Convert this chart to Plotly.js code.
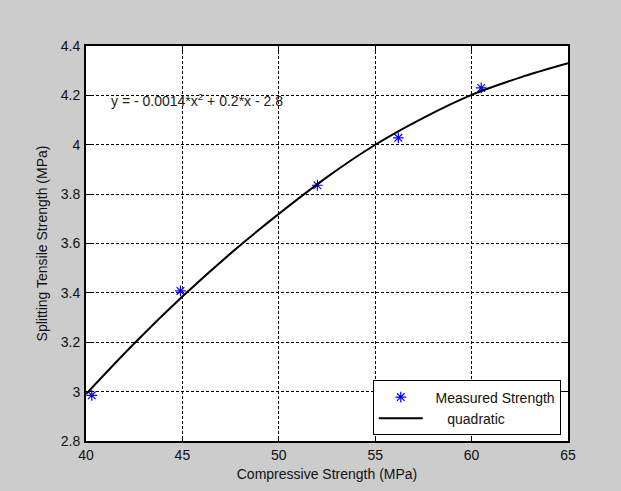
<!DOCTYPE html>
<html>
<head>
<meta charset="utf-8">
<script src="https://cdn.plot.ly/plotly-3.0.1.min.js"></script>
<style>
  html, body { margin: 0; padding: 0; background: #cccccc; }
  #chart { width: 621px; height: 491px; }
</style>
</head>
<body>
<div id="chart"></div>
<script>
// Measured splitting tensile strength against compressive strength
const measuredX = [40.3, 44.9, 52.0, 56.2, 60.5];
const measuredY = [2.985, 3.408, 3.836, 4.028, 4.23];

// Quadratic fit curve sampled along the compressive strength range
const fitX = [40, 42.5, 45, 47.5, 50, 52.5, 55, 57.5, 60, 62.5, 65];
const fitY = [2.99, 3.195, 3.385, 3.56, 3.72, 3.869, 4.0, 4.109, 4.202, 4.272, 4.33];

const xTicks = [40, 45, 50, 55, 60, 65];
const yTicks = [2.8, 3, 3.2, 3.4, 3.6, 3.8, 4, 4.2, 4.4];
const yTickText = ['2.8', '3', '3.2', '3.4', '3.6', '3.8', '4', '4.2', '4.4'];

const seriesNames = ['\u00a0\u00a0Measured Strength', '\u00a0\u00a0\u00a0\u00a0\u00a0quadratic'];
const equationText = 'y = - 0.0014*x<sup>2</sup> + 0.2*x - 2.8';

const font = { family: '"Liberation Sans", Arial, Helvetica, sans-serif', size: 14, color: '#111111' };

const traces = [
  {
    x: measuredX, y: measuredY,
    type: 'scatter', mode: 'markers', name: seriesNames[0],
    marker: { symbol: 'asterisk-open', size: 9, color: '#0000ff', line: { color: '#0000ff', width: 1.2 } }
  },
  {
    x: fitX, y: fitY,
    type: 'scatter', mode: 'lines', name: seriesNames[1],
    line: { color: '#000000', width: 2, shape: 'spline' }
  }
];

const axisCommon = {
  showline: true, linecolor: '#000000', linewidth: 2, mirror: 'ticks',
  ticks: 'inside', ticklen: 5, tickcolor: '#000000', tickwidth: 1,
  showgrid: true, gridcolor: '#000000', gridwidth: 1, griddash: '3px,2px',
  zeroline: false, tickfont: font, automargin: false
};

const layout = {
  width: 621, height: 491,
  paper_bgcolor: '#cccccc', plot_bgcolor: '#ffffff',
  margin: { l: 86, r: 53, t: 45.5, b: 49.5 },
  font: font,
  showlegend: true,
  legend: {
    x: 0.595, xanchor: 'left', y: 0.014, yanchor: 'bottom',
    bgcolor: '#ffffff', bordercolor: '#000000', borderwidth: 1,
    font: font, itemwidth: 44, tracegroupgap: 0
  },
  xaxis: Object.assign({}, axisCommon, {
    range: [40, 65], tickvals: xTicks, ticktext: xTicks.map(String),
    ticklabelstandoff: 0,
    title: { text: 'Compressive Strength (MPa)', font: font, standoff: 7 }
  }),
  yaxis: Object.assign({}, axisCommon, {
    range: [2.8, 4.4], tickvals: yTicks, ticktext: yTickText,
    ticklabelstandoff: 1,
    title: { text: 'Splitting Tensile Strength (MPa)', font: font }
  }),
  annotations: [{
    xref: 'x', yref: 'y', x: 41.2, y: 4.18, xanchor: 'left', yanchor: 'middle',
    text: equationText, showarrow: false, font: { family: font.family, size: 14, color: '#222222' }
  }]
};

Plotly.newPlot('chart', traces, layout, { displayModeBar: false, staticPlot: true });
</script>
</body>
</html>
